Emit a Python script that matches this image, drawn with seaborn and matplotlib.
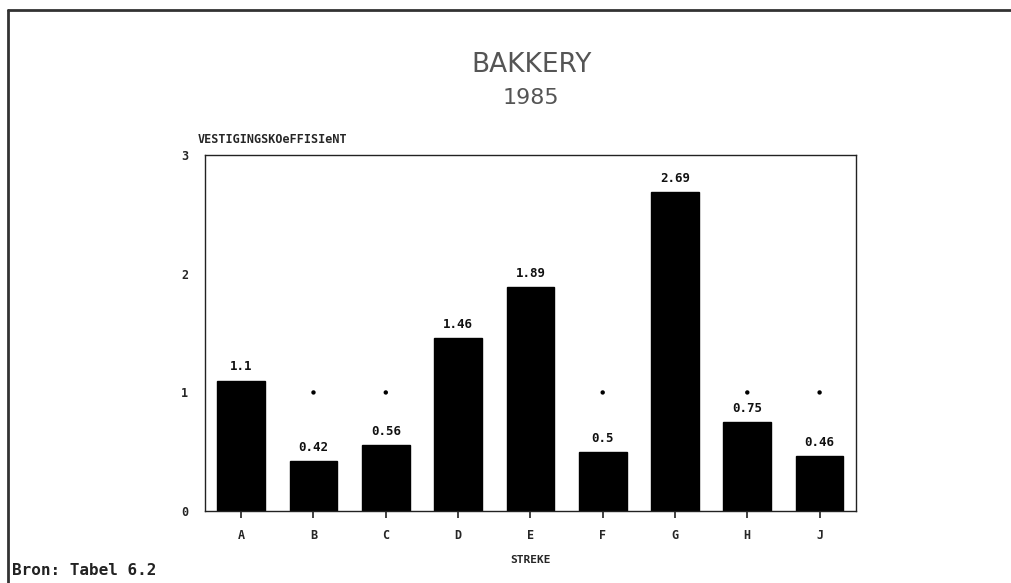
import matplotlib
matplotlib.use("Agg")
import matplotlib.pyplot as plt
import seaborn as sns
import pandas as pd

# data
streke = ["A", "B", "C", "D", "E", "F", "G", "H", "J"]
koeff = [1.1, 0.42, 0.56, 1.46, 1.89, 0.5, 2.69, 0.75, 0.46]
labels = ["1.1", "0.42", "0.56", "1.46", "1.89", "0.5", "2.69", "0.75", "0.46"]
ref_streke = ["B", "C", "F", "H", "J"]   # dots at the reference level 1
ref_level = [1, 1, 1, 1, 1]
yticks = [0, 1, 2, 3]

df = pd.DataFrame({"streke": streke, "koeff": koeff})
ref = pd.DataFrame({"streke": ref_streke, "koeff": ref_level})

sns.set_style("white")
mono = ["DejaVu Sans Mono"]

fig = plt.figure(figsize=(10.12, 5.83), dpi=100)
ax = fig.add_axes([0.2026, 0.1235, 0.643, 0.610])

sns.barplot(data=df, x="streke", y="koeff", order=streke, color="black",
            saturation=1, width=0.66, edgecolor="black", ax=ax)
sns.scatterplot(data=ref, x="streke", y="koeff", color="black", s=10,
                edgecolor="none", ax=ax, zorder=3)

for i, (v, t) in enumerate(zip(koeff, labels)):
    ax.text(i, v + 0.06, t, ha="center", va="bottom", fontsize=9,
            family=mono, fontweight="bold", color="#111111")

ax.set_xlim(-0.5, 8.5)
ax.set_ylim(0, 3)
ax.set_yticks(yticks)
ax.set_yticklabels([str(t) for t in yticks], family=mono, fontweight="bold", fontsize=8.5)
ax.set_xticks(range(len(streke)))
ax.set_xticklabels(streke, family=mono, fontweight="bold", fontsize=8.5)
ax.tick_params(axis="x", bottom=True, direction="out", length=5, width=1.2,
               color="#222222", pad=8)
ax.tick_params(axis="y", left=False, length=0, pad=12)
for s in ax.spines.values():
    s.set_color("#222222")
    s.set_linewidth(1.0)
ax.set_xlabel("STREKE", family=mono, fontweight="bold", fontsize=8, labelpad=9)
ax.set_ylabel("")
ax.text(-0.012, 1.025, "VESTIGINGSKOeFFISIeNT", transform=ax.transAxes,
        ha="left", va="bottom", family=mono, fontweight="bold", fontsize=8.5)

fig.text(0.525, 0.888, "BAKKERY", ha="center", va="center", fontsize=19,
         color="#555555", family=["DejaVu Sans"])
fig.text(0.525, 0.832, "1985", ha="center", va="center", fontsize=16,
         color="#555555", family=["DejaVu Sans"])
fig.text(0.012, 0.022, "Bron: Tabel 6.2", ha="left", va="center", fontsize=11.5,
         family=mono, fontweight="bold", color="#222222")

# page frame: top and left edge
fig.add_artist(plt.Line2D([0.008, 1.0], [0.983, 0.983], color="#333333", lw=2,
                          transform=fig.transFigure))
fig.add_artist(plt.Line2D([0.008, 0.008], [0.0, 0.983], color="#333333", lw=2,
                          transform=fig.transFigure))

fig.savefig("out.png", dpi=100)
